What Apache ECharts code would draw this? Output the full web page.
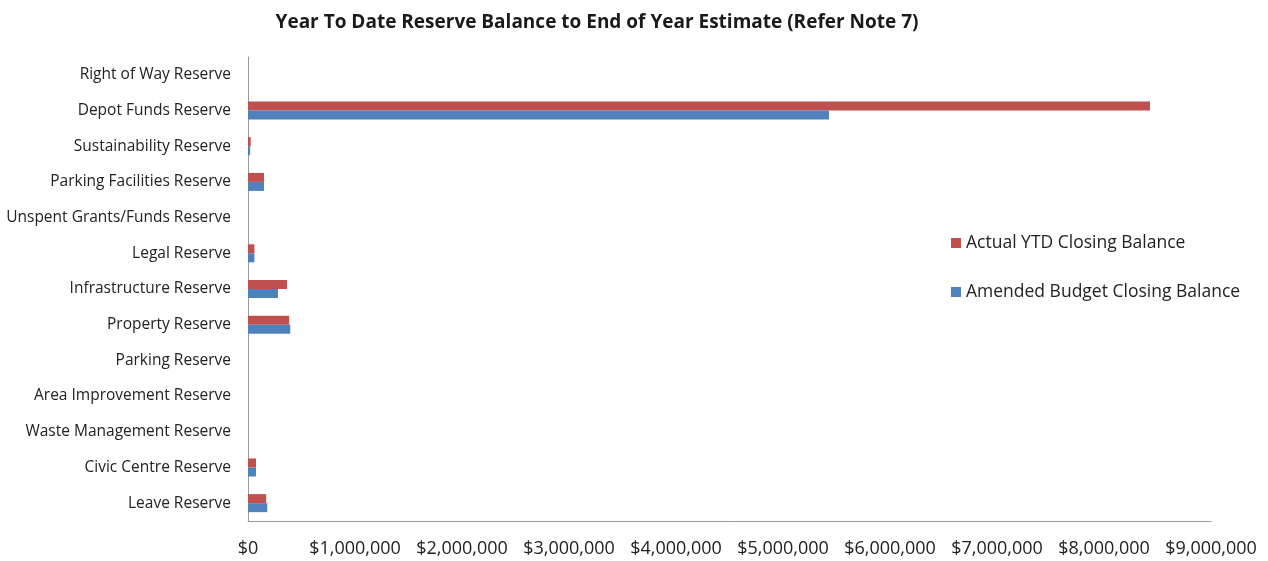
<!DOCTYPE html>
<html>
<head>
<meta charset="utf-8">
<script src="https://cdn.jsdelivr.net/npm/echarts@6/dist/echarts.min.js"></script>
<style>
  html, body { margin: 0; padding: 0; background: #fff; }
  #main { width: 1268px; height: 561px; }
</style>
</head>
<body>
<div id="main"></div>
<script>
// reserves, top to bottom as in the picture
var categories = [
  'Right of Way Reserve',
  'Depot Funds Reserve',
  'Sustainability Reserve',
  'Parking Facilities Reserve',
  'Unspent Grants/Funds Reserve',
  'Legal Reserve',
  'Infrastructure Reserve',
  'Property Reserve',
  'Parking Reserve',
  'Area Improvement Reserve',
  'Waste Management Reserve',
  'Civic Centre Reserve',
  'Leave Reserve'
]
var actualYtd = [0, 8430000, 25000, 150000, 0, 60000, 365000, 385000, 0, 0, 0, 75000, 170000]
var amendedBudget = [0, 5430000, 20000, 150000, 0, 60000, 280000, 395000, 0, 0, 0, 75000, 180000]
var xTicks = [0, 1000000, 2000000, 3000000, 4000000, 5000000, 6000000, 7000000, 8000000, 9000000]

var font = 'Open Sans'
var chart = echarts.init(document.getElementById('main'))

function money(v) {
  return '$' + v.toString().replace(/\B(?=(\d{3})+(?!\d))/g, ',')
}

var option = {
  animation: false,
  backgroundColor: '#fff',
  title: {
    text: 'Year To Date Reserve Balance to End of Year Estimate (Refer Note 7)',
    left: 592,
    textAlign: 'center',
    top: 8,
    textStyle: { fontFamily: font, fontSize: 19, fontWeight: 'bold', color: '#1a1a1a' }
  },
  legend: {
    orient: 'vertical',
    left: 946,
    top: 227,
    itemGap: 27,
    itemWidth: 10,
    itemHeight: 10,
    icon: 'rect',
    textStyle: { fontFamily: font, fontSize: 17.5, lineHeight: 22, color: '#222' },
    data: ['Actual YTD Closing Balance', 'Amended Budget Closing Balance']
  },
  grid: { left: 248, right: 57, top: 57, bottom: 40, containLabel: false },
  xAxis: {
    type: 'value',
    min: 0,
    max: xTicks[xTicks.length - 1],
    interval: 1000000,
    splitLine: { show: false },
    axisLine: { show: true, lineStyle: { color: '#999' } },
    axisTick: { show: false },
    axisLabel: {
      margin: 19,
      fontFamily: font,
      fontSize: 18,
      color: '#222',
      formatter: function (v) { return money(v) }
    }
  },
  yAxis: {
    type: 'category',
    inverse: true,
    data: categories,
    axisLine: { show: true, lineStyle: { color: '#999' } },
    axisTick: { show: false },
    axisLabel: { margin: 17, fontFamily: font, fontSize: 15.5, color: '#222' }
  },
  series: [
    {
      name: 'Actual YTD Closing Balance',
      type: 'bar',
      data: actualYtd,
      barWidth: 9,
      barGap: '0%',
      itemStyle: { color: '#c0504d' }
    },
    {
      name: 'Amended Budget Closing Balance',
      type: 'bar',
      data: amendedBudget,
      barWidth: 9,
      barGap: '0%',
      itemStyle: { color: '#4f81bd' }
    }
  ]
}
chart.setOption(option)
</script>
</body>
</html>
